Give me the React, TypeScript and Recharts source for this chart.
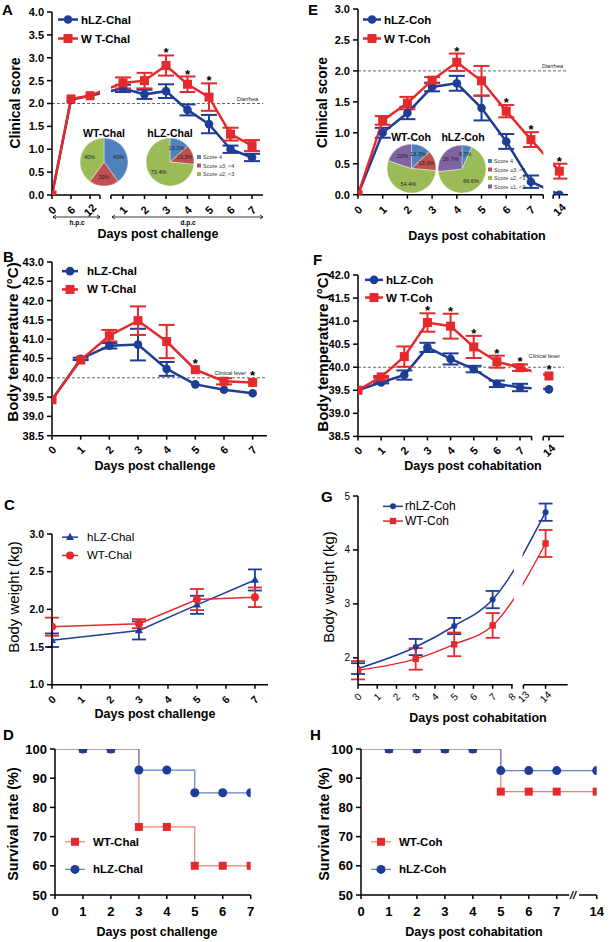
import React from 'react';
import {
  LineChart, Line, XAxis, YAxis, ErrorBar, ReferenceLine,
  Legend, PieChart, Pie, Cell,
} from 'recharts';

const RED = '#e42a2d';
const BLUE = '#1e3d96';
const RED_STEP = '#f27c78';
const BLUE_STEP = '#5e83cc';
const PIE_COLORS = ['#4f81bd', '#c0504d', '#9bbb59', '#8064a2'];
const FONT = '"Liberation Sans", Arial, Helvetica, sans-serif';

// A: clinical score after challenge (hours, then days)
const aHours = [0, 6, 12];
const aDays = [1, 2, 3, 4, 5, 6, 7];
const aHlz = [0, 2.08, 2.17, 2.33, 2.2, 2.27, 1.86, 1.55, 1.0, 0.82];
const aHlzErr = [null, null, null, 0.08, 0.1, 0.15, 0.12, 0.2, 0.08, 0.08];
const aWt = [0, 2.1, 2.17, 2.45, 2.5, 2.83, 2.42, 2.14, 1.33, 1.08];
const aWtErr = [null, null, null, 0.12, 0.17, 0.22, 0.17, 0.3, 0.14, 0.12];
const aSig = [0, 0, 0, 0, 0, 1, 1, 1, 0, 0];

// pie shares: score 4, score 3-4, score 2-3, score 1-2
const wtChalPie = [40, 20, 40];
const hlzChalPie = [13.3, 13.3, 73.4];
const wtCohPie = [13.3, 13.3, 54.4, 20];
const hlzCohPie = [6.7, 0, 66.6, 26.7];
const scoreNames = ['Score 4', 'Score \u22653, <4', 'Score \u22652, <3', 'Score \u22651, <2'];

// B: body temperature after challenge
const bDays = [0, 1, 2, 3, 4, 5, 6, 7];
const bHlz = [39.43, 40.49, 40.83, 40.86, 40.23, 39.83, 39.69, 39.6];
const bHlzErr = [null, 0.03, 0.07, 0.41, 0.18, null, null, null];
const bWt = [39.43, 40.46, 41.09, 41.48, 40.94, 40.21, 39.91, 39.88];
const bWtErr = [null, null, 0.15, 0.37, 0.43, null, 0.08, null];
const bSig = [0, 0, 0, 0, 0, 1, 0, 1];

// C: body weight after challenge
const cDays = [0, 3, 5, 7];
const cHlz = [1.59, 1.72, 2.06, 2.39];
const cHlzErr = [0.09, 0.12, 0.12, 0.14];
const cWt = [1.77, 1.81, 2.13, 2.16];
const cWtErr = [0.12, 0.06, 0.14, 0.13];

// D: survival after challenge
const dDays = [0, 1, 2, 3, 4, 5, 6, 7];
const dWt = [100, 100, 100, 73.3, 73.3, 60, 60, 60];
const dHlz = [100, 100, 100, 92.8, 92.8, 85, 85, 85];

// E: clinical score after cohabitation
const eDays = [0, 1, 2, 3, 4, 5, 6, 7, 14];
const eHlz = [0, 1.0, 1.32, 1.74, 1.8, 1.4, 0.86, 0.21, 0];
const eHlzErr = [null, 0.08, 0.1, 0.07, 0.12, 0.2, 0.12, 0.1, null];
const eWt = [0, 1.2, 1.48, 1.85, 2.14, 1.84, 1.35, 0.89, 0.38];
const eWtErr = [null, 0.07, 0.1, 0.05, 0.14, 0.24, 0.1, 0.12, 0.12];
const eSig = [0, 0, 0, 0, 1, 0, 1, 1, 1];

// F: body temperature after cohabitation
const fDays = [0, 1, 2, 3, 4, 5, 6, 7, 14];
const fHlz = [39.5, 39.67, 39.83, 40.43, 40.18, 39.96, 39.64, 39.56, 39.52];
const fHlzErr = [null, 0.02, 0.1, 0.1, 0.12, 0.07, 0.07, 0.08, null];
const fWt = [39.5, 39.79, 40.23, 40.97, 40.89, 40.44, 40.12, 39.99, 39.81];
const fWtErr = [null, 0.02, 0.22, 0.2, 0.27, 0.24, 0.13, 0.07, null];
const fSig = [0, 0, 0, 1, 1, 1, 1, 1, 1];

// G: body weight after cohabitation
const gDays = [0, 3, 5, 7, 14];
const gTickDays = [0, 1, 2, 3, 4, 5, 6, 7, 8, 13, 14];
const gHlz = [1.8, 2.2, 2.59, 3.08, 4.7];
const gHlzErr = [0.1, 0.15, 0.15, 0.16, 0.16];
const gWt = [1.77, 1.98, 2.25, 2.6, 4.12];
const gWtErr = [0.17, 0.2, 0.22, 0.23, 0.25];

// H: survival after cohabitation
const hDays = [0, 1, 2, 3, 4, 5, 6, 7, 14];
const hWt = [100, 100, 100, 100, 100, 85.4, 85.4, 85.4, 85.4];
const hHlz = [100, 100, 100, 100, 100, 92.6, 92.6, 92.6, 92.6];

// broken-axis scales: where each day sits on the drawn axis
const posA = [...aHours.map((h) => (h / 6) * 0.884), ...aDays.map((d) => d + 2.3)];
const posE = (d: number) => (d <= 7 ? d : 8.15);
const posF = (d: number) => (d <= 7 ? d : 8.25);
const posG = (d: number) => (d <= 8 ? d : 8.6 + (d - 13) * 1.15);
const posH = (d: number) => (d <= 7 ? d : 8.43);

const range = (a: number, b: number, s: number) => {
  const out: number[] = [];
  for (let v = a; v <= b + 1e-9; v += s) out.push(Math.round(v * 100) / 100);
  return out;
};

const labeler = (pos: number[], labels: string[]) => (v: number) => {
  const i = pos.findIndex((p) => Math.abs(p - v) < 1e-6);
  return i < 0 ? '' : labels[i];
};

function buildRows(xs: number[], hlz: any[], hlzErr: any[] | null, wt: any[], wtErr: any[] | null, sig?: number[]) {
  return xs.map((x, i) => ({
    x,
    hlz: hlz[i],
    hlzErr: hlzErr ? hlzErr[i] : null,
    wt: wt[i],
    wtErr: wtErr ? wtErr[i] : null,
    star: sig && sig[i] ? wt[i] + ((wtErr && wtErr[i]) || 0) : null,
  }));
}

type Shape = 'circle' | 'square' | 'triangle';

function Marker({ shape, cx, cy, r, fill }: { shape: Shape; cx: number; cy: number; r: number; fill: string }) {
  if (shape === 'square') return <rect x={cx - r} y={cy - r} width={2 * r} height={2 * r} fill={fill} />;
  if (shape === 'triangle')
    return <polygon points={`${cx},${cy - r * 1.1} ${cx - r},${cy + r * 0.7} ${cx + r},${cy + r * 0.7}`} fill={fill} />;
  return <circle cx={cx} cy={cy} r={r} fill={fill} />;
}

function XTick(props: any) {
  const { x, y, payload, fmt, rotate, size, weight, off } = props;
  const label = fmt(payload.value);
  if (!label) return <g />;
  if (rotate) {
    const cy = y + off;
    return (
      <text x={x} y={cy} transform={`rotate(-45 ${x} ${cy})`} textAnchor="middle" dominantBaseline="central"
        fontSize={size} fontWeight={weight} fontFamily={FONT} fill="#000">{label}</text>
    );
  }
  return (
    <text x={x} y={y + off} textAnchor="middle" fontSize={size} fontWeight={weight} fontFamily={FONT} fill="#000">{label}</text>
  );
}

function RefLabel({ viewBox, text, shift, lift }: any) {
  if (!viewBox) return null;
  const right = viewBox.x + (viewBox.width || 0);
  return (
    <text x={right - 3 - shift} y={viewBox.y - lift} textAnchor="end" fontSize={5.5} fill="#222" fontFamily={FONT}>{text}</text>
  );
}

function LegendBlock({ items, row, line, gap, font, weight, lw }: any) {
  return (
    <svg width={line + gap + 80} height={row * items.length} style={{ display: 'block', overflow: 'visible' }}>
      {items.map((it: any, i: number) => {
        const y = row / 2 + i * row;
        return (
          <g key={it.name}>
            <line x1={0} x2={line} y1={y} y2={y} stroke={it.line ?? it.color} strokeWidth={lw} />
            <Marker shape={it.shape} cx={line / 2} cy={y} r={it.r} fill={it.color} />
            <text x={line + gap} y={y} dominantBaseline="central" fontSize={font} fontWeight={weight}
              fontFamily={FONT} fill="#000">{it.name}</text>
          </g>
        );
      })}
    </svg>
  );
}

const ML = 50, MT = 12, MR = 12, MB = 40;
const AXIS = { stroke: '#000', strokeWidth: 1.5 };

function Panel({ d }: { d: any }) {
  const [x0, y0, x1, y1] = d.plot;
  const left = x0 - ML;
  const top = y0 - MT;
  const W = x1 - x0 + ML + MR;
  const H = y1 - y0 + MT + MB;
  const starDot = (p: any) => {
    if (p.value == null || p.cy == null) return <g key={p.index} />;
    const lift = p.payload.wtErr ? 0 : 4;
    return (
      <text key={p.index} x={p.cx} y={p.cy + 2 - lift} textAnchor="middle" fontSize={13} fontWeight="bold"
        fontFamily={FONT} fill="#000">*</text>
    );
  };
  return (
    <div style={{ position: 'absolute', left, top }}>
      <LineChart width={W} height={H} data={d.rows} margin={{ top: MT, right: MR, bottom: 0, left: 0 }}>
        <XAxis type="number" dataKey="x" domain={[0, d.xMax]} ticks={d.xTicks} interval={0} height={MB}
          axisLine={d.segs ? false : AXIS} tickLine={AXIS} tickSize={4} tickMargin={2} allowDataOverflow
          tick={<XTick fmt={d.xFmt} rotate={d.rotate} size={d.xFont} weight={d.xWeight} off={d.xOff} />} />
        <YAxis type="number" domain={d.yDom} ticks={d.yTicks} interval={0} width={ML} axisLine={AXIS}
          tickLine={AXIS} tickSize={5} tickMargin={3} allowDataOverflow tickFormatter={d.yFmt}
          tick={{ fill: '#000', fontSize: d.yFont, fontWeight: d.yWeight, fontFamily: FONT }} />
        {d.ref && (
          <ReferenceLine y={d.ref.y} stroke="#555" strokeDasharray="3 2" strokeWidth={0.9}
            label={<RefLabel text={d.ref.label} shift={d.ref.shift} lift={d.ref.lift} />} />
        )}
        {d.segs && d.segs.map((s: number[], i: number) => (
          <ReferenceLine key={i} segment={[{ x: s[0], y: d.yDom[0] }, { x: s[1], y: d.yDom[0] }]}
            stroke="#000" strokeWidth={1.5} ifOverflow="visible" />
        ))}
        {d.series.map((s: any) => (
          <Line key={s.key} dataKey={s.key} type={s.curve ?? 'linear'} stroke={s.line ?? s.color} strokeWidth={s.w}
            isAnimationActive={false} activeDot={false}
            dot={(p: any) => {
              if (p.value == null || p.cy == null || (s.skipFirst && p.index === 0)) return <g key={p.index} />;
              return <Marker key={p.index} shape={s.shape} cx={p.cx} cy={p.cy} r={s.r} fill={s.color} />;
            }}>
            {s.err && <ErrorBar dataKey={s.err} direction="y" width={s.cap ?? 8} stroke={s.color} strokeWidth={s.ew ?? 2} />}
          </Line>
        ))}
        {d.stars && (
          <Line dataKey="star" stroke="none" isAnimationActive={false} activeDot={false} legendType="none" dot={starDot} />
        )}
        <Legend layout="horizontal" verticalAlign="middle" align="center"
          wrapperStyle={{ left: d.legend.x - left, top: d.legend.y - top, width: 130 }}
          content={() => <LegendBlock items={d.series} {...d.legend} />} />
      </LineChart>
    </div>
  );
}

const pieLabel = (p: any) => {
  if (!p.value) return null;
  const a = (-p.midAngle * Math.PI) / 180;
  const rr = p.outerRadius * 0.64;
  return (
    <text x={p.cx + rr * Math.cos(a)} y={p.cy + rr * Math.sin(a)} textAnchor="middle" dominantBaseline="central"
      fontSize={5.5} fill="#222" fontFamily={FONT}>{`${p.value}%`}</text>
  );
};

function ScorePie({ cx, cy, r, values }: { cx: number; cy: number; r: number; values: number[] }) {
  const data = values.map((v, i) => ({ name: scoreNames[i], value: v }));
  const size = 2 * r + 6;
  return (
    <div style={{ position: 'absolute', left: cx - size / 2, top: cy - size / 2 }}>
      <PieChart width={size} height={size} margin={{ top: 0, right: 0, bottom: 0, left: 0 }}>
        <Pie data={data} dataKey="value" cx="50%" cy="50%" outerRadius={r} startAngle={90} endAngle={-270}
          isAnimationActive={false} stroke="#fff" strokeWidth={0.4} labelLine={false} label={pieLabel}>
          {data.map((e, i) => <Cell key={e.name} fill={PIE_COLORS[i]} />)}
        </Pie>
      </PieChart>
    </div>
  );
}

const blueCircle = { color: BLUE, shape: 'circle', r: 4.3, w: 2.5 };
const redSquare = { color: RED, shape: 'square', r: 4.5, w: 2.5 };
const boldTicks = { xFont: 11, xWeight: 'bold', yFont: 11, yWeight: 'bold' };
const f1 = (v: number) => v.toFixed(1);
const dayLabels = labeler(range(0, 7, 1), range(0, 7, 1).map(String));

const panels: any[] = [
  {
    plot: [52, 12, 263, 195],
    rows: buildRows(posA, aHlz, aHlzErr, aWt, aWtErr, aSig),
    xMax: 9.81, xTicks: [...posA, 2.23, 2.74].sort((a, b) => a - b),
    xFmt: labeler(posA, [...aHours, ...aDays].map(String)), rotate: true, xOff: 9,
    yDom: [0, 4], yTicks: range(0, 4, 0.5), yFmt: f1, ...boldTicks,
    segs: [[0, 2.23], [2.74, 9.81]], gap: [2.23, 2.74, 2.05, 2.6],
    ref: { y: 2, label: 'Diarrhea', shift: 2, lift: 2.5 }, stars: true,
    series: [
      { key: 'hlz', err: 'hlzErr', name: 'hLZ-Chal', ...blueCircle },
      { key: 'wt', err: 'wtErr', name: 'W T-Chal', ...redSquare },
    ],
    legend: { x: 58, y: 9.5, row: 19, line: 20, gap: 3, font: 11.5, weight: 'bold', lw: 2.5 },
  },
  {
    plot: [52, 262.3, 267, 436],
    rows: buildRows(bDays, bHlz, bHlzErr, bWt, bWtErr, bSig),
    xMax: 7.5, xTicks: bDays, xFmt: dayLabels, rotate: true, xOff: 8,
    yDom: [38.5, 43], yTicks: range(38.5, 43, 0.5), yFmt: f1, ...boldTicks,
    ref: { y: 40, label: 'Clinical fever', shift: 18, lift: 2.5 }, stars: true,
    series: [
      { key: 'hlz', err: 'hlzErr', name: 'hLZ-Chal', ...blueCircle },
      { key: 'wt', err: 'wtErr', name: 'W T-Chal', ...redSquare },
    ],
    legend: { x: 62, y: 262.5, row: 18.3, line: 16, gap: 9, font: 11.5, weight: 'bold', lw: 2.5 },
  },
  {
    plot: [52, 534.3, 268, 685],
    rows: buildRows(cDays, cHlz, cHlzErr, cWt, cWtErr),
    xMax: 7.45, xTicks: range(0, 7, 1), xFmt: dayLabels, rotate: true, xOff: 9,
    yDom: [1, 3], yTicks: range(1, 3, 0.5), yFmt: f1, xFont: 10.5, xWeight: 'bold', yFont: 10.5, yWeight: 'bold',
    series: [
      { key: 'hlz', err: 'hlzErr', name: 'hLZ-Chal', color: BLUE, shape: 'triangle', r: 4, w: 1.5, cap: 7, ew: 1.8 },
      { key: 'wt', err: 'wtErr', name: 'WT-Chal', color: RED, shape: 'circle', r: 4, w: 1.5, cap: 7, ew: 1.8 },
    ],
    legend: { x: 62, y: 528.5, row: 18.3, line: 16, gap: 9, font: 11.5, weight: 'normal', lw: 1.5 },
  },
  {
    plot: [55, 749, 250.7, 895],
    rows: buildRows(dDays, dHlz, null, dWt, null),
    xMax: 7, xTicks: dDays, xFmt: dayLabels, rotate: false, xOff: 15,
    yDom: [50, 100], yTicks: range(50, 100, 10), yFmt: String, xFont: 13, xWeight: 'bold', yFont: 13, yWeight: 'bold',
    series: [
      { key: 'wt', name: 'WT-Chal', color: RED, line: RED_STEP, shape: 'square', r: 4, w: 1.2, curve: 'stepAfter', skipFirst: true },
      { key: 'hlz', name: 'hLZ-Chal', color: BLUE, line: BLUE_STEP, shape: 'circle', r: 4.5, w: 1.2, curve: 'stepAfter', skipFirst: true },
    ],
    legend: { x: 65, y: 828, row: 27.6, line: 20, gap: 8, font: 11.5, weight: 'bold', lw: 1.2 },
  },
  {
    plot: [358, 9.3, 568, 195],
    rows: buildRows(eDays.map(posE), eHlz, eHlzErr, eWt, eWtErr, eSig),
    xMax: 8.5, xTicks: [...eDays.map(posE), 7.5, 7.9].sort((a, b) => a - b),
    xFmt: labeler(eDays.map(posE), eDays.map(String)), rotate: true, xOff: 9,
    yDom: [0, 3], yTicks: range(0, 3, 0.5), yFmt: f1, ...boldTicks,
    segs: [[0, 7.5], [7.9, 8.5]], gap: [7.5, 7.9, 0.02, 1.5],
    ref: { y: 2, label: 'Diarrhea', shift: 2, lift: 2.5 }, stars: true,
    series: [
      { key: 'hlz', err: 'hlzErr', name: 'hLZ-Coh', ...blueCircle },
      { key: 'wt', err: 'wtErr', name: 'W T-Coh', ...redSquare },
    ],
    legend: { x: 363, y: 9.5, row: 19, line: 18, gap: 3, font: 11.5, weight: 'bold', lw: 2.5 },
  },
  {
    plot: [358, 275, 564, 436.4],
    rows: buildRows(fDays.map(posF), fHlz, fHlzErr, fWt, fWtErr, fSig),
    xMax: 8.9, xTicks: [...fDays.map(posF), 7.5, 8.0].sort((a, b) => a - b),
    xFmt: labeler(fDays.map(posF), fDays.map(String)), rotate: true, xOff: 8,
    yDom: [38.5, 42], yTicks: range(38.5, 42, 0.5), yFmt: f1, ...boldTicks,
    segs: [[0, 7.5], [8.0, 8.9]], gap: [7.5, 8.0, 38.6, 39.96],
    ref: { y: 40, label: 'Clinical fever', shift: 1, lift: 9 }, stars: true,
    series: [
      { key: 'hlz', err: 'hlzErr', name: 'hLZ-Coh', ...blueCircle },
      { key: 'wt', err: 'wtErr', name: 'W T-Coh', ...redSquare },
    ],
    legend: { x: 365, y: 271, row: 17.7, line: 18, gap: 3, font: 11.5, weight: 'bold', lw: 2.5 },
  },
  {
    plot: [358, 495.7, 567.7, 684.5],
    rows: buildRows(gDays.map(posG), gHlz, gHlzErr, gWt, gWtErr),
    xMax: 10.9, xTicks: gTickDays.map(posG),
    xFmt: labeler(gTickDays.map(posG), gTickDays.map(String)), rotate: true, xOff: 6,
    yDom: [1.5, 5], yTicks: [2, 3, 4, 5], yFmt: String, xFont: 10, xWeight: 'normal', yFont: 10, yWeight: 'normal',
    segs: [[0, 8.04], [8.6, 10.9]], gap: [8.1, 8.55, 1.52, 5],
    series: [
      { key: 'hlz', err: 'hlzErr', name: 'rhLZ-Coh', color: BLUE, shape: 'circle', r: 3, w: 1.5, curve: 'monotone', cap: 7, ew: 1.8 },
      { key: 'wt', err: 'wtErr', name: 'WT-Coh', color: RED, shape: 'square', r: 3.2, w: 1.5, curve: 'monotone', cap: 7, ew: 1.8 },
    ],
    legend: { x: 383, y: 498.6, row: 14.7, line: 20, gap: 2, font: 12, weight: 'normal', lw: 1.5 },
  },
  {
    plot: [361, 749, 596.7, 895],
    rows: buildRows(hDays.map(posH), hHlz, null, hWt, null),
    xMax: 8.43, xTicks: hDays.map(posH),
    xFmt: labeler(hDays.map(posH), hDays.map(String)), rotate: false, xOff: 15,
    yDom: [50, 100], yTicks: range(50, 100, 10), yFmt: String, xFont: 13, xWeight: 'bold', yFont: 13, yWeight: 'bold',
    segs: [[0, 7.45], [7.8, 8.43]],
    series: [
      { key: 'wt', name: 'WT-Coh', color: RED, line: RED_STEP, shape: 'square', r: 4, w: 1.2, curve: 'stepAfter', skipFirst: true },
      { key: 'hlz', name: 'hLZ-Coh', color: BLUE, line: BLUE_STEP, shape: 'circle', r: 4.5, w: 1.2, curve: 'stepAfter', skipFirst: true },
    ],
    legend: { x: 371, y: 828, row: 27.6, line: 20, gap: 8, font: 11.5, weight: 'bold', lw: 1.2 },
  },
];

// white masks that open the plotted lines where an axis is broken
function BreakMask({ d }: { d: any }) {
  const [x0, y0, x1, y1] = d.plot;
  const [ya, yb] = d.yDom;
  const sx = (v: number) => x0 + (v / d.xMax) * (x1 - x0);
  const sy = (v: number) => y1 - ((v - ya) / (yb - ya)) * (y1 - y0);
  const [g0, g1, g2, g3] = d.gap;
  return <rect x={sx(g0)} y={sy(g3)} width={sx(g1) - sx(g0)} height={sy(g2) - sy(g3)} fill="#fff" />;
}

function VTitle({ x, y, size, weight, children }: any) {
  return (
    <text x={x} y={y} transform={`rotate(-90 ${x} ${y})`} textAnchor="middle" dominantBaseline="central"
      fontSize={size} fontWeight={weight} fontFamily={FONT} fill="#000">{children}</text>
  );
}

function HTitle({ x, y, children, size = 12.5 }: any) {
  return (
    <text x={x} y={y} textAnchor="middle" fontSize={size} fontWeight="bold" fontFamily={FONT} fill="#000">{children}</text>
  );
}

function DArrow({ x1, x2, y }: any) {
  return (
    <g stroke="#000" strokeWidth={0.8} fill="none">
      <line x1={x1} x2={x2} y1={y} y2={y} />
      <path d={`M${x1 + 3},${y - 2} L${x1},${y} L${x1 + 3},${y + 2}`} />
      <path d={`M${x2 - 3},${y - 2} L${x2},${y} L${x2 - 3},${y + 2}`} />
    </g>
  );
}

function PieKey({ x, y, n }: any) {
  return (
    <g>
      {scoreNames.slice(0, n).map((s, i) => (
        <g key={s}>
          <rect x={x} y={y + i * 8.5 - 2} width={4} height={4} fill={PIE_COLORS[i]} />
          <text x={x + 6} y={y + i * 8.5} dominantBaseline="central" fontSize={5.5} fill="#333" fontFamily={FONT}>{s}</text>
        </g>
      ))}
    </g>
  );
}

function Overlay() {
  const letter = (t: string, x: number, y: number) => (
    <text key={t} x={x} y={y} fontSize={15} fontWeight="bold" fontFamily={FONT} fill="#000">{t}</text>
  );
  return (
    <svg width={612} height={942} style={{ position: 'absolute', left: 0, top: 0, pointerEvents: 'none' }}>
      {panels.filter((p) => p.gap).map((p, i) => <BreakMask key={i} d={p} />)}

      {letter('A', 2, 15)}
      {letter('B', 3, 262)}
      {letter('C', 4, 510)}
      {letter('D', 3, 740)}
      {letter('E', 308, 15)}
      {letter('F', 313, 265)}
      {letter('G', 321, 502)}
      {letter('H', 310, 740)}

      <VTitle x={15} y={103} size={14} weight="bold">Clinical score</VTitle>
      <VTitle x={321.5} y={102.5} size={14} weight="bold">Clinical score</VTitle>
      <VTitle x={12.5} y={342} size={15} weight="bold">Body temperature (°C)</VTitle>
      <VTitle x={322} y={352} size={15} weight="bold">Body temperature (°C)</VTitle>
      <VTitle x={13} y={597} size={15} weight="normal">Body weight (kg)</VTitle>
      <VTitle x={328} y={587} size={15} weight="normal">Body weight (kg)</VTitle>
      <VTitle x={12.5} y={824} size={14.5} weight="bold">Survival rate (%)</VTitle>
      <VTitle x={323.5} y={824} size={14.5} weight="bold">Survival rate (%)</VTitle>

      <HTitle x={158} y={238}>Days post challenge</HTitle>
      <HTitle x={155} y={470}>Days post challenge</HTitle>
      <HTitle x={155} y={717.5}>Days post challenge</HTitle>
      <HTitle x={157} y={936}>Days post challenge</HTitle>
      <HTitle x={477} y={239.5}>Days post cohabitation</HTitle>
      <HTitle x={473} y={470}>Days post cohabitation</HTitle>
      <HTitle x={478} y={722}>Days post cohabitation</HTitle>
      <HTitle x={474} y={936}>Days post cohabitation</HTitle>

      <DArrow x1={53} x2={100} y={217} />
      <DArrow x1={112} x2={263} y={217} />
      <HTitle x={77} y={225} size={6.5}>h.p.c</HTitle>
      <HTitle x={188} y={225} size={6.5}>d.p.c</HTitle>

      <HTitle x={104} y={137} size={10.5}>WT-Chal</HTitle>
      <HTitle x={170} y={137} size={10.5}>hLZ-Chal</HTitle>
      <HTitle x={411} y={141} size={10.5}>WT-Coh</HTitle>
      <HTitle x={463} y={141} size={10.5}>hLZ-Coh</HTitle>
      <PieKey x={197} y={157} n={3} />
      <PieKey x={488} y={161} n={4} />

      <text x={573} y={899} textAnchor="middle" fontSize={11} fontWeight="bold" fontStyle="italic" fontFamily={FONT}>//</text>
    </svg>
  );
}

export default function App() {
  return (
    <div style={{ position: 'absolute', left: 0, top: 0, width: 612, height: 942, background: '#fff' }}>
      {panels.map((p, i) => <Panel key={i} d={p} />)}
      <ScorePie cx={104} cy={162} r={24} values={wtChalPie} />
      <ScorePie cx={170} cy={162} r={24} values={hlzChalPie} />
      <ScorePie cx={411} cy={168.5} r={24.5} values={wtCohPie} />
      <ScorePie cx={462} cy={168.5} r={24} values={hlzCohPie} />
      <Overlay />
    </div>
  );
}
